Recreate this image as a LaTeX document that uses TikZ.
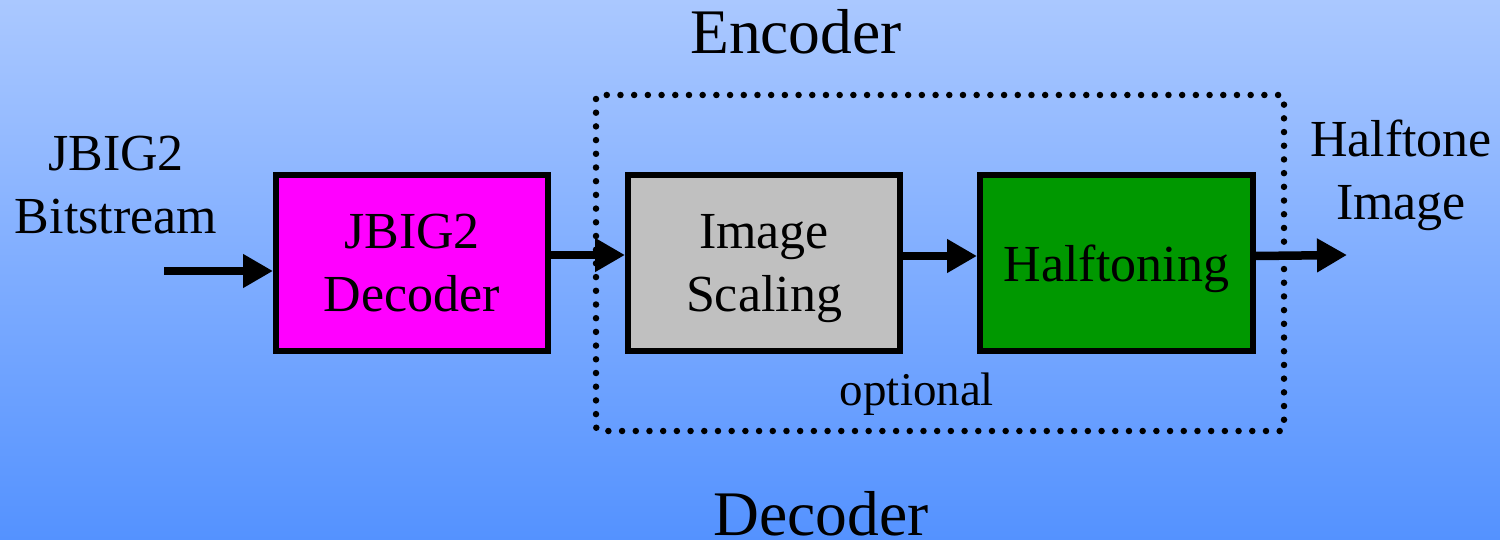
\documentclass[tikz,border=0pt]{standalone}
\usepackage{fontspec}
\setmainfont{Liberation Serif}
\usetikzlibrary{arrows.meta}
\definecolor{bgtop}{RGB}{170,200,255}
\definecolor{bgbot}{RGB}{84,146,255}
\definecolor{boxmag}{RGB}{255,0,255}
\definecolor{boxgray}{RGB}{192,192,192}
\definecolor{boxgreen}{RGB}{0,152,0}
\tikzset{
  blockbox/.style={draw=black, line width=6pt, minimum width=272pt, minimum height=176pt,
    align=center, text depth=0pt, inner sep=0pt, font=\fontsize{52}{63}\selectfont},
  lab/.style={align=center, inner sep=0pt, text depth=0pt, font=\fontsize{52}{63}\selectfont},
  biglab/.style={inner sep=0pt, anchor=base, font=\fontsize{63.5}{70}\selectfont},
  arr/.style={line width=8.5pt, -{Triangle[length=30pt,width=32pt]}},
  dotbox/.style={line width=6.5pt, line cap=round, dash pattern=on 0pt off 13.7pt, rounded corners=4pt}
}
\begin{document}
\begin{tikzpicture}[x=1pt,y=-1pt]
\shade[top color=bgtop, bottom color=bgbot] (0,0) rectangle (1500,540);
\useasboundingbox (0,0) rectangle (1500,540);

\draw[dotbox] (596,95) rectangle (1284,431);

\node[blockbox, fill=boxmag] (dec) at (412,263) {JBIG2\\Decoder};
\node[blockbox, fill=boxgray] (scl) at (764,263) {Image\\Scaling};
\node[blockbox, fill=boxgreen, minimum width=273pt] (half) at (1116.5,263) {Halftoning};

\node[lab, anchor=south] (inlab) at (116,234) {JBIG2\\Bitstream};
\node[lab, anchor=south] (outlab) at (1401,220) {Halftone\\Image};
\node[biglab] (enc) at (796,54) {Encoder};
\node[biglab] (decl) at (821,535) {Decoder};
\node[inner sep=0pt, anchor=base, font=\fontsize{47}{56}\selectfont] (opt) at (917,405) {optional};

\coordinate (instart) at (164,271);
\coordinate (outend) at (1347,255);
\draw[arr] (instart) -- ([yshift=-8pt]dec.west);
\draw[arr] ([yshift=8pt]dec.east) -- ([yshift=8pt]scl.west);
\draw[arr] ([yshift=7pt]scl.east) -- ([yshift=7pt]half.west);
\draw[arr] ([yshift=7pt]half.east) -- (outend);
\end{tikzpicture}
\end{document}
